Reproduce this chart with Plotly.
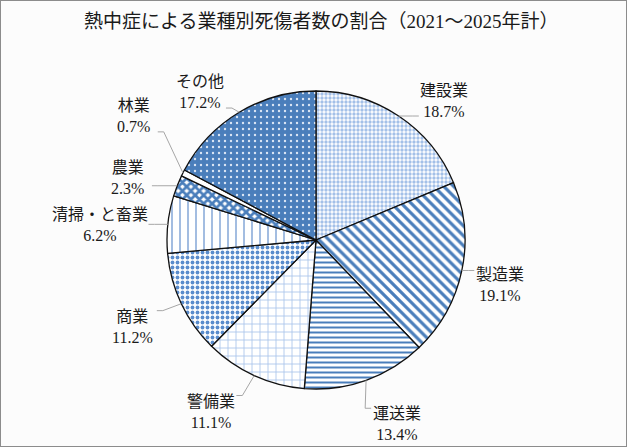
import math
import plotly.graph_objects as go

# ---- data ----
categories = ["建設業", "製造業", "運送業", "警備業", "商業", "清掃・と畜業", "農業", "林業", "その他"]
shares = [18.7, 19.1, 13.4, 11.1, 11.2, 6.2, 2.3, 0.7, 17.2]
title_text = "熱中症による業種別死傷者数の割合（2021～2025年計）"

# ---- styles ----
BLUE = "#4a7ebb"
LIGHT = "#a3c0e8"
pat_shape = [".", "\\", "-", "+", ".", "|", "x", "", "."]
pat_fg = [LIGHT, BLUE, BLUE, "#a9c4eb", "#5a8ccc", "#7fa4d6", BLUE, "#ffffff", "#dbe6f5"]
pat_bg = ["#ffffff", "#ffffff", "#ffffff", "#ffffff", "#ffffff", "#ffffff", "#ffffff", "#ffffff", BLUE]
pat_size = [4, 7, 5, 8, 5, 8, 6, 8, 6]
pat_sol = [0.55, 0.45, 0.4, 0.2, 0.45, 0.18, 0.7, 0.1, 0.12]

# label placement (layout only)
label_dist = [1.27, 1.27, 1.35, 1.35, 1.36, 1.45, 1.33, 1.48, 1.26]
label_shift = [9, 2, -4, 7, 0, -2, -3, 7.5, -7]

W, H = 627, 447
CX, CY, R = 316, 240, 149
FONT = "Liberation Serif, Noto Sans CJK JP"

fig = go.Figure()
fig.add_trace(go.Pie(
    labels=categories,
    values=shares,
    sort=False,
    direction="clockwise",
    rotation=0,
    textinfo="none",
    hoverinfo="label+percent",
    showlegend=False,
    marker=dict(
        colors=pat_bg,
        line=dict(color="#111111", width=1.3),
        pattern=dict(shape=pat_shape, fgcolor=pat_fg, bgcolor=pat_bg,
                     size=pat_size, solidity=pat_sol, fillmode="replace"),
    ),
    domain=dict(x=[(CX - R) / W, (CX + R) / W], y=[1 - (CY + R) / H, 1 - (CY - R) / H]),
))

def px(x, y):
    return x / W, 1 - y / H

total = sum(shares)
cum = 0.0
annotations = []
shapes = []
for i, (name, v) in enumerate(zip(categories, shares)):
    mid = (cum + v / 2) / total * 360.0
    cum += v
    a = math.radians(mid)
    ex, ey = CX + R * math.sin(a), CY - R * math.cos(a)
    la = math.radians(mid + label_shift[i])
    lx = CX + R * label_dist[i] * math.sin(la)
    ly = CY - R * label_dist[i] * math.cos(la)
    text = f"{name}<br>{v:.1f}%"
    xa, ya = px(lx, ly)
    annotations.append(dict(x=xa, y=ya, xref="paper", yref="paper", text=text,
                            xanchor="center", yanchor="middle",
                            showarrow=False, align="center",
                            font=dict(family=FONT, size=16, color="#1a1a1a")))
    w = max(len(name) * 15, 42)
    h = 40
    if lx > ex:
        ax = lx - w / 2 - 3
        elbow = ax - 6
    else:
        ax = lx + w / 2 + 3
        elbow = ax + 6
    ay = min(max(ey, ly - h / 2 + 4), ly + h / 2 - 4)
    p0, p1, p2 = px(ax, ay), px(elbow, ay), px(ex, ey)
    shapes.append(dict(type="path", xref="paper", yref="paper",
                       path=f"M {p0[0]} {p0[1]} L {p1[0]} {p1[1]} L {p2[0]} {p2[1]}",
                       line=dict(color="#a6a6a6", width=1)))

annotations.append(dict(x=321 / W, y=1 - 22 / H, xref="paper", yref="paper",
                        xanchor="center", yanchor="middle",
                        text=title_text, showarrow=False,
                        font=dict(family=FONT, size=19, color="#1a1a1a")))
shapes.append(dict(type="rect", xref="paper", yref="paper", x0=0, y0=0, x1=1, y1=1,
                   line=dict(color="#8c8c8c", width=2)))

fig.update_layout(
    width=W, height=H,
    margin=dict(l=0, r=0, t=0, b=0),
    paper_bgcolor="#fcfcfc",
    plot_bgcolor="#fcfcfc",
    annotations=annotations,
    shapes=shapes,
)
fig.write_html("out.html")
